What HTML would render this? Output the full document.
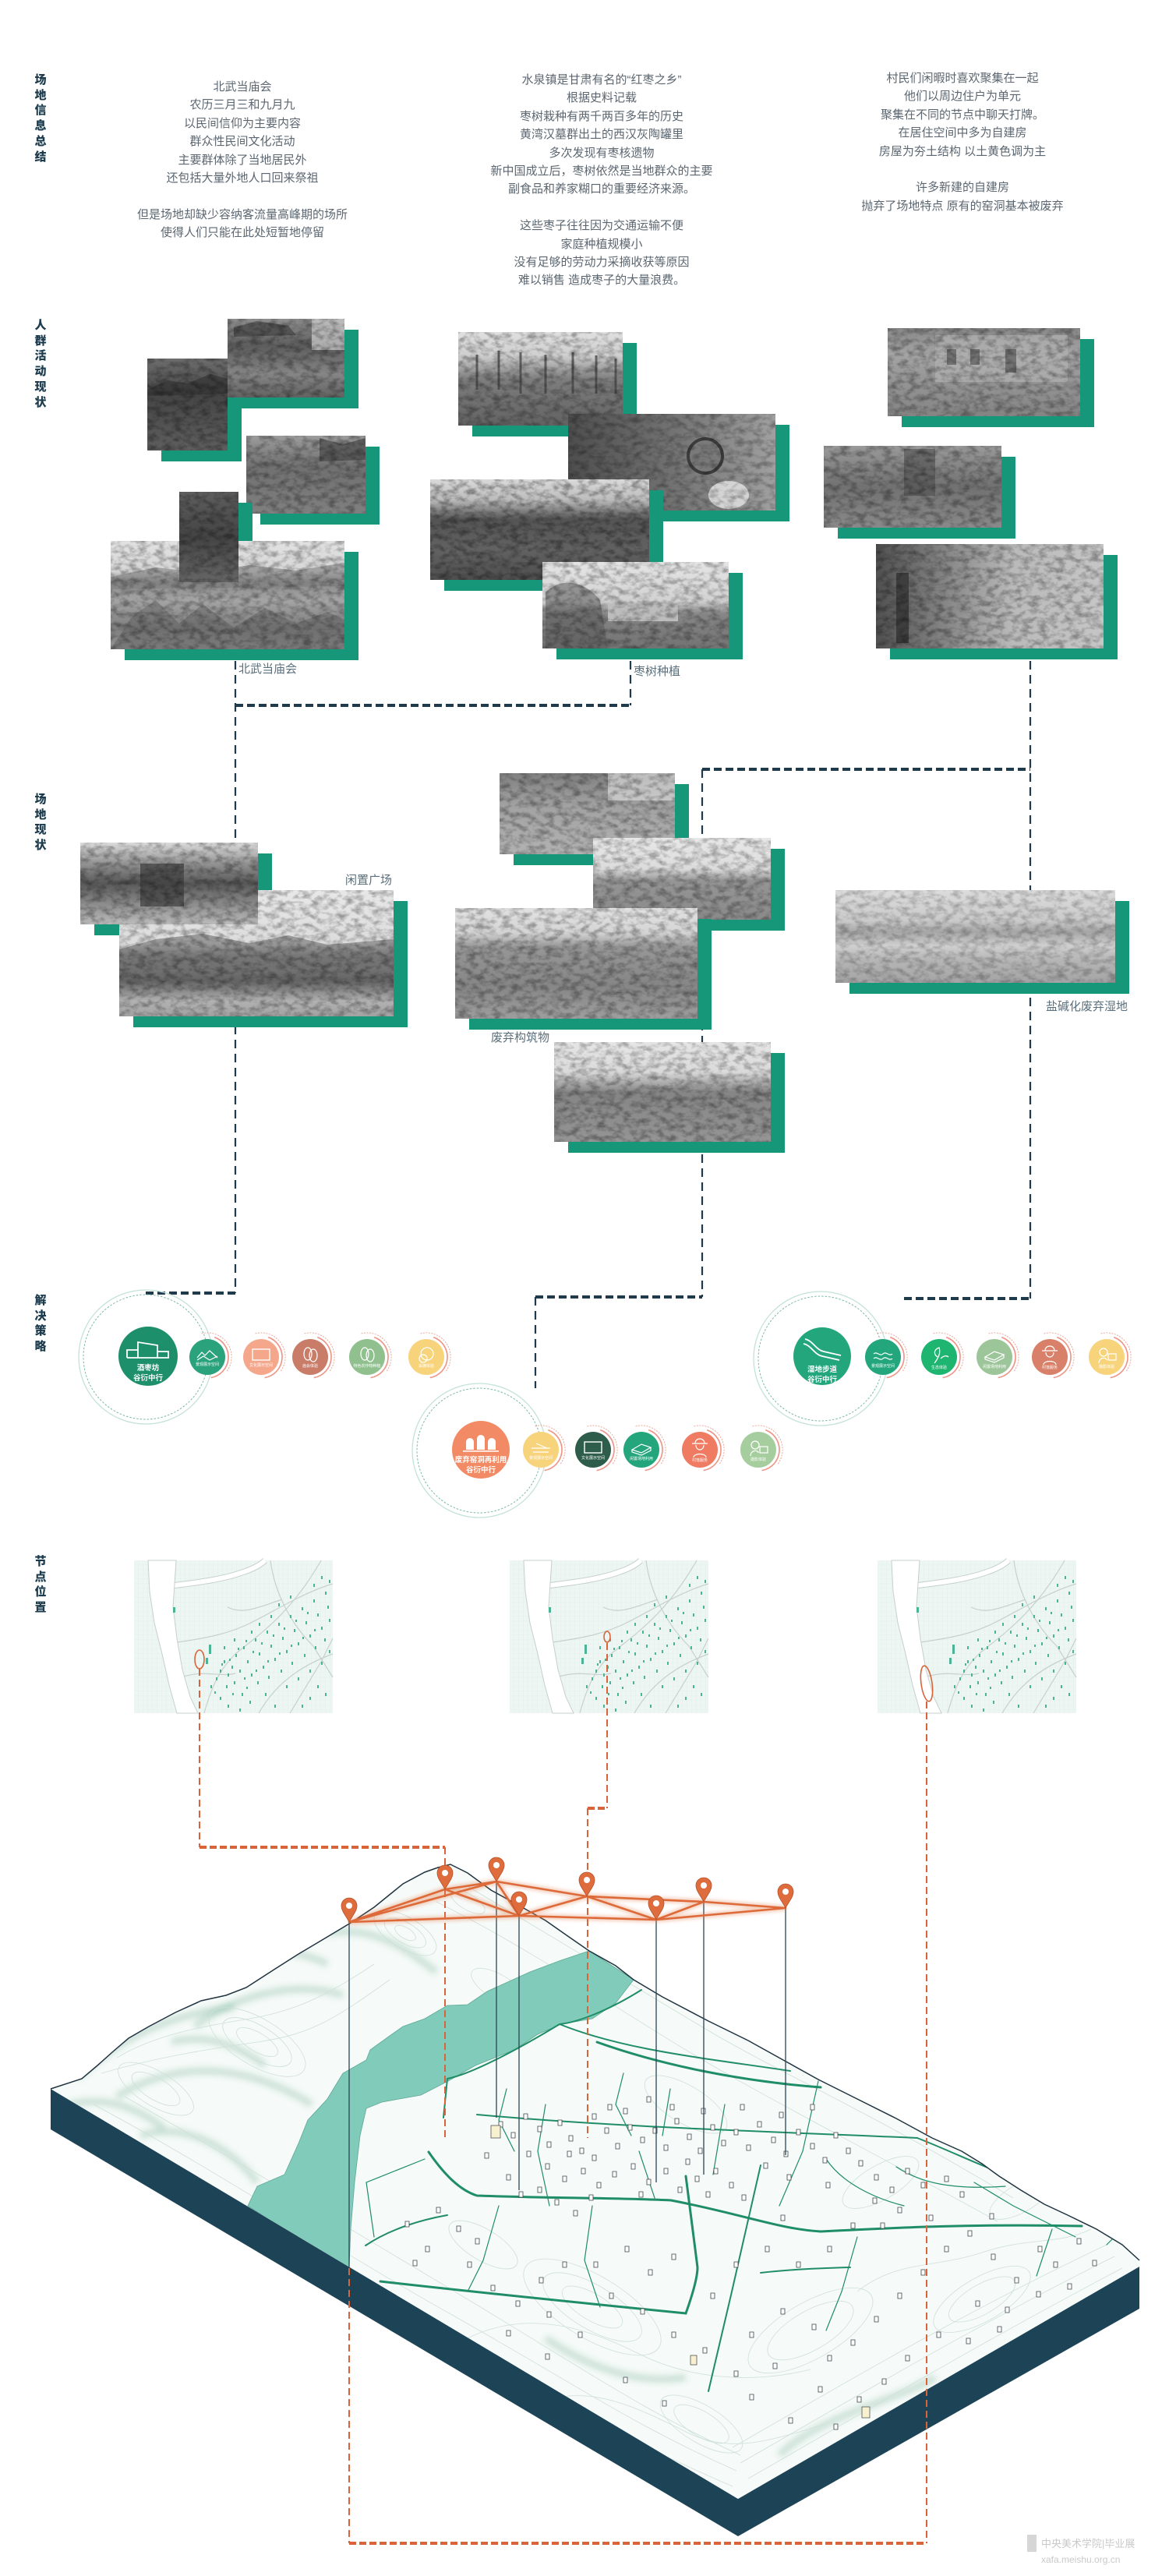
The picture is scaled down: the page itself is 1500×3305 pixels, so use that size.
<!DOCTYPE html>
<html><head><meta charset="utf-8">
<style>
html,body{margin:0;padding:0;background:#fff;}
#pg{position:relative;width:1500px;height:3305px;overflow:hidden;background:#fff;font-family:"Liberation Sans","Noto Sans CJK SC",sans-serif;}
.p{position:absolute;width:470px;text-align:center;font-size:15px;line-height:23.4px;color:#5b6670;white-space:nowrap;}
.side{position:absolute;left:43px;width:18px;text-align:center;font-size:15px;line-height:19.7px;font-weight:900;color:#1c3c4e;font-family:"Noto Sans CJK SC","WenQuanYi Zen Hei",sans-serif;}
.lbl{position:absolute;font-size:15px;line-height:18px;color:#5a6f7b;white-space:nowrap;}
.ct{font-family:"Liberation Sans","Noto Sans CJK SC",sans-serif;font-size:9.5px;font-weight:bold;fill:#fff;text-anchor:middle;}
.st{font-family:"Liberation Sans","Noto Sans CJK SC",sans-serif;font-size:5px;fill:#fff;text-anchor:middle;}
</style></head>
<body><div id="pg">
<svg xmlns="http://www.w3.org/2000/svg" width="1500" height="3305" viewBox="0 0 1500 3305" style="position:absolute;left:0;top:0">
<defs>
<filter id="grain" x="0" y="0" width="1" height="1">
<feTurbulence type="fractalNoise" baseFrequency="0.09 0.14" numOctaves="4" seed="7"/>
<feColorMatrix type="matrix" values="0 0 0 0 0  0 0 0 0 0  0 0 0 0 0  2.4 0 0 0 -0.95"/>
</filter>
<filter id="blur" x="-20%" y="-20%" width="140%" height="140%"><feGaussianBlur stdDeviation="4"/></filter>
<filter id="glow" x="-5%" y="-50%" width="110%" height="200%"><feGaussianBlur stdDeviation="2"/></filter>
<pattern id="grid" width="6" height="6" patternUnits="userSpaceOnUse"><path d="M6 0V6M0 6H6" stroke="#dcece7" stroke-width=".6" fill="none"/></pattern>
<linearGradient id="gA" x1="0" y1="0" x2="0" y2="1"><stop offset="0" stop-color="#8f8f8f"/><stop offset=".35" stop-color="#5d5d5d"/><stop offset=".7" stop-color="#868686"/><stop offset="1" stop-color="#626262"/></linearGradient>
<linearGradient id="gB" x1="0" y1="0" x2="0" y2="1"><stop offset="0" stop-color="#6e6e6e"/><stop offset=".4" stop-color="#454545"/><stop offset="1" stop-color="#5e5e5e"/></linearGradient>
<linearGradient id="gC" x1="0" y1="0" x2="0" y2="1"><stop offset="0" stop-color="#9c9c9c"/><stop offset=".4" stop-color="#707070"/><stop offset="1" stop-color="#808080"/></linearGradient>
<linearGradient id="gD" x1="0" y1="0" x2="0" y2="1"><stop offset="0" stop-color="#5e5e5e"/><stop offset=".5" stop-color="#444"/><stop offset="1" stop-color="#666"/></linearGradient>
<linearGradient id="gE" x1="0" y1="0" x2="0" y2="1"><stop offset="0" stop-color="#e2e2e2"/><stop offset=".28" stop-color="#d6d6d6"/><stop offset=".38" stop-color="#8a8a8a"/><stop offset=".55" stop-color="#a5a5a5"/><stop offset=".8" stop-color="#7e7e7e"/><stop offset="1" stop-color="#939393"/></linearGradient>
<linearGradient id="gM" x1="0" y1="0" x2="0" y2="1"><stop offset="0" stop-color="#e0e0e0"/><stop offset=".25" stop-color="#cfcfcf"/><stop offset=".5" stop-color="#7e7e7e"/><stop offset="1" stop-color="#626262"/></linearGradient>
<linearGradient id="gN" x1="0" y1="0" x2="1" y2="0"><stop offset="0" stop-color="#4e4e4e"/><stop offset=".5" stop-color="#727272"/><stop offset="1" stop-color="#a0a0a0"/></linearGradient>
<linearGradient id="gO" x1="0" y1="0" x2="0" y2="1"><stop offset="0" stop-color="#dadada"/><stop offset=".2" stop-color="#bdbdbd"/><stop offset=".4" stop-color="#545454"/><stop offset=".7" stop-color="#626262"/><stop offset="1" stop-color="#4e4e4e"/></linearGradient>
<linearGradient id="gP" x1="0" y1="0" x2="0" y2="1"><stop offset="0" stop-color="#e5e5e5"/><stop offset=".45" stop-color="#d2d2d2"/><stop offset=".6" stop-color="#868686"/><stop offset="1" stop-color="#737373"/></linearGradient>
<linearGradient id="gQ" x1="0" y1="0" x2="0" y2="1"><stop offset="0" stop-color="#888"/><stop offset=".3" stop-color="#a4a4a4"/><stop offset=".6" stop-color="#959595"/><stop offset="1" stop-color="#848484"/></linearGradient>
<linearGradient id="gR" x1="0" y1="0" x2="0" y2="1"><stop offset="0" stop-color="#9a9a9a"/><stop offset=".5" stop-color="#717171"/><stop offset="1" stop-color="#8a8a8a"/></linearGradient>
<linearGradient id="gS" x1="0" y1="0" x2="1" y2="0"><stop offset="0" stop-color="#505050"/><stop offset=".3" stop-color="#858585"/><stop offset=".6" stop-color="#bababa"/><stop offset="1" stop-color="#c6c6c6"/></linearGradient>
<linearGradient id="gF" x1="0" y1="0" x2="0" y2="1"><stop offset="0" stop-color="#dcdcdc"/><stop offset=".25" stop-color="#959595"/><stop offset=".5" stop-color="#585858"/><stop offset=".75" stop-color="#8c8c8c"/><stop offset="1" stop-color="#bcbcbc"/></linearGradient>
<linearGradient id="gG" x1="0" y1="0" x2="0" y2="1"><stop offset="0" stop-color="#e8e8e8"/><stop offset=".42" stop-color="#dcdcdc"/><stop offset=".52" stop-color="#858585"/><stop offset=".72" stop-color="#646464"/><stop offset=".88" stop-color="#b2b2b2"/><stop offset="1" stop-color="#a2a2a2"/></linearGradient>
<linearGradient id="gH" x1="0" y1="0" x2="0" y2="1"><stop offset="0" stop-color="#808080"/><stop offset=".4" stop-color="#a2a2a2"/><stop offset="1" stop-color="#b2b2b2"/></linearGradient>
<linearGradient id="gI" x1="0" y1="0" x2="0" y2="1"><stop offset="0" stop-color="#e8e8e8"/><stop offset=".38" stop-color="#dcdcdc"/><stop offset=".52" stop-color="#959595"/><stop offset="1" stop-color="#8a8a8a"/></linearGradient>
<linearGradient id="gJ" x1="0" y1="0" x2="0" y2="1"><stop offset="0" stop-color="#e2e2e2"/><stop offset=".22" stop-color="#d5d5d5"/><stop offset=".35" stop-color="#979797"/><stop offset=".7" stop-color="#868686"/><stop offset="1" stop-color="#9e9e9e"/></linearGradient>
<linearGradient id="gK" x1="0" y1="0" x2="0" y2="1"><stop offset="0" stop-color="#e6e6e6"/><stop offset=".3" stop-color="#dadada"/><stop offset=".5" stop-color="#858585"/><stop offset="1" stop-color="#959595"/></linearGradient>
<linearGradient id="gL" x1="0" y1="0" x2="0" y2="1"><stop offset="0" stop-color="#dcdcdc"/><stop offset=".33" stop-color="#cacaca"/><stop offset=".45" stop-color="#a6a6a6"/><stop offset=".6" stop-color="#d0d0d0"/><stop offset=".75" stop-color="#b6b6b6"/><stop offset="1" stop-color="#a4a4a4"/></linearGradient>
<clipPath id="tc"><path d="M65 2680 L105 2667 L125 2650 L144 2633 L165 2615 L191 2600 L225 2582 L258 2567 L290 2560 L316 2550 L350 2528 L383 2507 L415 2488 L450 2467 L480 2447 L517 2417 L545 2402 L562 2396 L578 2392 L600 2403 L630 2425 L670 2447 L700 2464 L730 2485 L756 2503 L790 2522 L813 2540 L850 2562 L909 2593 L960 2618 L1005 2643 L1050 2668 L1100 2693 L1150 2718 L1196 2743 L1234 2760 L1260 2776 L1282 2792 L1310 2810 L1340 2828 L1370 2842 L1407 2860 L1440 2880 L1462 2900 L1462 2908 L947 3206 Z"/></clipPath>
<g id="map">
<rect width="255" height="196" fill="#edf6f3"/>
<rect width="255" height="196" fill="url(#grid)"/>
<g fill="none" stroke="#c6d0cd" stroke-width="1.2">
<path d="M55 105 C90 100 120 95 150 80 C180 65 220 40 255 30"/>
<path d="M90 196 C100 160 110 140 130 120 C160 95 200 70 240 0"/>
<path d="M160 196 C175 170 200 140 255 120"/>
<path d="M175 0 C180 40 200 80 230 110 L255 150"/>
<path d="M60 150 C90 140 110 150 130 145"/>
<path d="M200 196 L240 130 L255 100"/>
<path d="M120 60 C140 70 160 60 190 50"/>
</g>
<path d="M52 32 C85 28 115 24 140 15 C155 10 163 5 168 0" stroke="#c6d0cd" stroke-width="8" fill="none"/>
<path d="M52 32 C85 28 115 24 140 15 C155 10 163 5 168 0" stroke="#fff" stroke-width="6" fill="none"/>
<path d="M18 0 L54 0 L52 30 L50 60 L55 100 L62 140 L72 175 L82 196 L55 196 L45 160 L36 120 L26 80 L20 40 Z" fill="#fff" stroke="#c6d0cd"/>
<path fill="#4db396" d="M105 150h2v4h-2zM110 140h2v4h-2zM98 160h2v4h-2zM115 128h2v4h-2zM120 145h2v4h-2zM125 135h2v4h-2zM118 160h2v4h-2zM130 120h2v4h-2zM135 140h2v4h-2zM128 155h2v4h-2zM140 110h2v4h-2zM145 128h2v4h-2zM150 145h2v4h-2zM138 170h2v4h-2zM155 100h2v4h-2zM160 118h2v4h-2zM165 135h2v4h-2zM158 155h2v4h-2zM148 180h2v4h-2zM170 90h2v4h-2zM175 108h2v4h-2zM180 125h2v4h-2zM172 148h2v4h-2zM168 170h2v4h-2zM185 80h2v4h-2zM190 98h2v4h-2zM195 115h2v4h-2zM188 140h2v4h-2zM200 70h2v4h-2zM205 88h2v4h-2zM210 105h2v4h-2zM202 130h2v4h-2zM215 60h2v4h-2zM220 78h2v4h-2zM225 95h2v4h-2zM218 120h2v4h-2zM230 50h2v4h-2zM235 68h2v4h-2zM240 85h2v4h-2zM232 110h2v4h-2zM245 40h2v4h-2zM248 58h2v4h-2zM250 75h2v4h-2zM244 100h2v4h-2zM210 150h2v4h-2zM225 140h2v4h-2zM240 130h2v4h-2zM250 115h2v4h-2zM195 160h2v4h-2zM180 185h2v4h-2zM120 185h2v4h-2zM135 190h2v4h-2zM110 175h2v4h-2zM240 20h2v4h-2zM250 25h2v4h-2zM230 30h2v4h-2zM200 45h2v4h-2zM185 55h2v4h-2zM175 70h2v4h-2zM160 80h2v4h-2zM150 90h2v4h-2zM128 100h2v4h-2zM115 110h2v4h-2zM235 160h2v4h-2zM245 170h2v4h-2zM225 175h2v4h-2zM215 185h2v4h-2zM96 108h3v12h-3zM92 125h3v8h-3zM50 60h3v7h-3zM112 132h2v3h-2zM122 126h2v3h-2zM133 112h2v3h-2zM143 102h2v3h-2zM152 116h2v3h-2zM163 105h2v3h-2zM178 95h2v3h-2zM192 86h2v3h-2zM207 76h2v3h-2zM222 66h2v3h-2zM141 150h2v3h-2zM156 140h2v3h-2zM171 128h2v3h-2zM186 118h2v3h-2zM201 108h2v3h-2zM216 98h2v3h-2zM231 88h2v3h-2zM103 168h2v3h-2zM126 170h2v3h-2zM144 162h2v3h-2z"/>
</g>
<g id="ring"><circle r="86" stroke="#c3e2d9" stroke-width="1.3" fill="none"/><circle r="80" stroke="#7ab8a6" stroke-width="1" stroke-dasharray="2.5 2" fill="none"/></g>
<g id="arc"><path d="M9.2 -25.4 A27 27 0 0 1 4.7 26.6" stroke="#ee9383" stroke-width="1.6" fill="none"/><path d="M-7.5 -30.1 A31 31 0 0 1 24.8 18.7" stroke="#e9a093" stroke-width=".9" stroke-dasharray="2 1.5" fill="none"/></g>
</defs>

<!-- navy dashed connectors -->
<g stroke="#1f3a4b" fill="none">
<g stroke-width="2.2" stroke-dasharray="11 7">
<path d="M302 848V1659M809 848V905M1322 848V1666M901 987V1337M901 1481V1664M687 1664V1781"/>
</g>
<g stroke-width="4" stroke-dasharray="10 5">
<path d="M302 905H809M187 1659H302M901 987H1322M687 1664H901M1160 1666H1322"/>
</g>
</g>

<!-- photos column 1 -->
<g>
<rect x="207" y="474" width="103" height="118" fill="#17977a"/>
<rect x="189" y="460" width="103" height="118" fill="url(#gB)"/>
<path d="M189 500 L215 488 L240 492 L270 480 L292 486 L292 505 L189 508Z" fill="#2e2e2e" opacity=".6"/>
<rect x="189" y="460" width="103" height="118" filter="url(#grain)" opacity=".32"/>
<rect x="310" y="423" width="150" height="101" fill="#17977a"/>
<rect x="292" y="409" width="150" height="101" fill="url(#gA)"/>
<rect x="400" y="409" width="42" height="40" fill="#cfcfcf" opacity=".7"/>
<path d="M300 420 L330 412 L370 418 L380 430 L300 432Z" fill="#3a3a3a" opacity=".6"/>
<rect x="292" y="409" width="150" height="101" filter="url(#grain)" opacity=".32"/>
<rect x="334" y="573" width="153" height="100" fill="#17977a"/>
<rect x="316" y="559" width="153" height="100" fill="url(#gC)"/>
<path d="M410 562 L440 570 L469 562 L469 590 L410 592Z" fill="#3e3e3e" opacity=".6"/>
<rect x="316" y="559" width="153" height="100" filter="url(#grain)" opacity=".32"/>
<rect x="248" y="645" width="76" height="116" fill="#17977a"/>
<rect x="160" y="708" width="300" height="139" fill="#17977a"/>
<rect x="142" y="694" width="300" height="139" fill="url(#gE)"/>
<path d="M142 740 L200 728 L260 735 L320 725 L380 732 L442 722 L442 752 L142 756 Z" fill="#7e7e7e" opacity=".6"/>
<path d="M170 790 L200 770 L230 800 L260 775 L300 805 L340 780 L380 800 L420 785 L442 795 L442 833 L142 833 Z" fill="#5e5e5e" opacity=".45"/>
<rect x="142" y="694" width="300" height="139" filter="url(#grain)" opacity=".32"/>
<rect x="230" y="631" width="76" height="116" fill="url(#gD)"/>
<rect x="230" y="631" width="76" height="116" filter="url(#grain)" opacity=".32"/>
</g>
<!-- photos column 2 -->
<g>
<rect x="606" y="440" width="211" height="120" fill="#17977a"/>
<rect x="588" y="426" width="211" height="120" fill="url(#gM)"/>
<g stroke="#3e3e3e" stroke-width="3" opacity=".7"><path d="M612 500V455M640 500V450M668 505V452M700 505V455M735 505V452M765 505V456M790 505V460"/></g>
<rect x="588" y="426" width="211" height="120" filter="url(#grain)" opacity=".32"/>
<rect x="747" y="545" width="266" height="124" fill="#17977a"/>
<rect x="729" y="531" width="266" height="124" fill="url(#gN)"/>
<circle cx="905" cy="585" r="22" fill="#7a7a7a" stroke="#3d3d3d" stroke-width="4"/>
<ellipse cx="935" cy="635" rx="26" ry="18" fill="#d4d4d4"/>
<rect x="729" y="531" width="266" height="124" filter="url(#grain)" opacity=".28"/>
<rect x="570" y="629" width="281" height="129" fill="#17977a"/>
<rect x="552" y="615" width="281" height="129" fill="url(#gO)"/>
<rect x="552" y="615" width="281" height="129" filter="url(#grain)" opacity=".36"/>
<rect x="714" y="735" width="239" height="111" fill="#17977a"/>
<rect x="696" y="721" width="239" height="111" fill="url(#gP)"/>
<path d="M700 832 L700 760 C720 740 750 745 770 770 L780 832Z" fill="#5a5a5a" opacity=".55"/>
<rect x="780" y="775" width="90" height="22" fill="#bdbdbd"/>
<rect x="696" y="721" width="239" height="111" filter="url(#grain)" opacity=".32"/>
</g>
<!-- photos column 3 -->
<g>
<rect x="1157" y="435" width="247" height="113" fill="#17977a"/>
<rect x="1139" y="421" width="247" height="113" fill="url(#gQ)"/>
<rect x="1200" y="430" width="170" height="60" fill="#b2b2b2" opacity=".7"/>
<g fill="#5a5a5a" opacity=".7"><rect x="1215" y="448" width="12" height="20"/><rect x="1245" y="448" width="12" height="20"/><rect x="1290" y="448" width="14" height="30"/></g>
<rect x="1139" y="421" width="247" height="113" filter="url(#grain)" opacity=".32"/>
<rect x="1075" y="586" width="228" height="105" fill="#17977a"/>
<rect x="1057" y="572" width="228" height="105" fill="url(#gR)"/>
<rect x="1160" y="576" width="40" height="60" fill="#4e4e4e" opacity=".6"/>
<rect x="1057" y="572" width="228" height="105" filter="url(#grain)" opacity=".32"/>
<rect x="1142" y="712" width="292" height="134" fill="#17977a"/>
<rect x="1124" y="698" width="292" height="134" fill="url(#gS)"/>
<rect x="1150" y="735" width="16" height="90" fill="#2e2e2e" opacity=".7"/>
<rect x="1124" y="698" width="292" height="134" filter="url(#grain)" opacity=".32"/>
</g>
<!-- site photos -->
<g>
<rect x="121" y="1095" width="228" height="105" fill="#17977a"/>
<rect x="171" y="1156" width="352" height="162" fill="#17977a"/>
<rect x="153" y="1142" width="352" height="162" fill="url(#gG)"/>
<path d="M153 1218 L200 1205 L260 1198 L320 1210 L370 1200 L420 1212 L505 1205 L505 1240 L153 1246Z" fill="#6e6e6e" opacity=".6"/>
<rect x="153" y="1142" width="352" height="162" filter="url(#grain)" opacity=".32"/>
<rect x="103" y="1081" width="228" height="105" fill="url(#gF)"/>
<rect x="180" y="1108" width="56" height="55" fill="#3f3f3f" opacity=".7"/>
<rect x="103" y="1081" width="228" height="105" filter="url(#grain)" opacity=".32"/>

<rect x="659" y="1006" width="225" height="104" fill="#17977a"/>
<rect x="641" y="992" width="225" height="104" fill="url(#gH)"/>
<rect x="780" y="992" width="86" height="35" fill="#d8d8d8" opacity=".7"/>
<rect x="641" y="992" width="225" height="104" filter="url(#grain)" opacity=".32"/>
<rect x="779" y="1089" width="228" height="105" fill="#17977a"/>
<rect x="761" y="1075" width="228" height="105" fill="url(#gI)"/>
<rect x="761" y="1075" width="228" height="105" filter="url(#grain)" opacity=".32"/>
<rect x="602" y="1179" width="311" height="142" fill="#17977a"/>
<rect x="584" y="1165" width="311" height="142" fill="url(#gJ)"/>
<rect x="584" y="1165" width="311" height="142" filter="url(#grain)" opacity=".32"/>
<rect x="729" y="1351" width="278" height="128" fill="#17977a"/>
<rect x="711" y="1337" width="278" height="128" fill="url(#gK)"/>
<rect x="711" y="1337" width="278" height="128" filter="url(#grain)" opacity=".32"/>
<rect x="1090" y="1156" width="359" height="119" fill="#17977a"/>
<rect x="1072" y="1142" width="359" height="119" fill="url(#gL)"/>
<rect x="1072" y="1142" width="359" height="119" filter="url(#grain)" opacity=".24"/>
</g>

<!-- strategy clusters -->
<use href="#ring" x="187" y="1741"/>
<use href="#ring" x="615" y="1861"/>
<use href="#ring" x="1053" y="1743"/>

<circle cx="190" cy="1740" r="38" fill="#1e8f6b"/>
<g transform="translate(190,1740)" stroke="#fff" stroke-width="1.8" fill="none"><path d="M-27 2 V-8 H-13 M-27 2 H27 M-13 2 V-18 L12 -14 V2 M12 -6 H26 V2"/></g>
<text x="190" y="1758" class="ct">酒枣坊</text><text x="190" y="1771" class="ct">谷衍中行</text>

<g transform="translate(266,1741)"><use href="#arc"/><circle r="23" fill="#2aa37c"/><path d="M-13 1 L-7 -6 L-3 -2 L3 -8 L13 1 M-13 4 L-5 -1 L3 4 L13 -1" stroke="#fff" stroke-width="1.2" fill="none"/><text y="11" class="st">景观展示空间</text></g>
<g transform="translate(335,1741)"><use href="#arc"/><circle r="23" fill="#f5a78c"/><rect x="-11" y="-10" width="22" height="14" stroke="#fff" stroke-width="1.4" fill="none"/><text y="12" class="st">文化展示空间</text></g>
<g transform="translate(398,1741)"><use href="#arc"/><circle r="23" fill="#c97c68"/><ellipse cx="-3" cy="-4" rx="5" ry="8" stroke="#fff" stroke-width="1.2" fill="none"/><ellipse cx="4" cy="-2" rx="5" ry="8" stroke="#fff" stroke-width="1.2" fill="none"/><text y="13" class="st">庙会体验</text></g>
<g transform="translate(471,1741)"><use href="#arc"/><circle r="23" fill="#8fc08e"/><ellipse cx="-3" cy="-4" rx="5" ry="8" stroke="#fff" stroke-width="1.2" fill="none"/><ellipse cx="4" cy="-2" rx="5" ry="8" stroke="#fff" stroke-width="1.2" fill="none"/><text y="13" class="st">特色农作物种植</text></g>
<g transform="translate(547,1741)"><use href="#arc"/><circle r="23" fill="#f7d47c"/><circle cx="1" cy="-4" r="8" stroke="#fff" stroke-width="1.2" fill="none"/><circle cx="-4" cy="2" r="5" stroke="#fff" stroke-width="1.2" fill="none"/><text y="13" class="st">采摘体验</text></g>

<circle cx="617" cy="1860" r="37" fill="#f28b65"/>
<g transform="translate(617,1860)" fill="#fff"><path d="M-19 0 V-10 A5 5 0 0 1 -9 -10 V0 Z M-5 0 V-14 A5 5 0 0 1 5 -14 V0 Z M9 0 V-10 A5 5 0 0 1 19 -10 V0 Z"/><rect x="-23" y="1" width="46" height="1.6"/></g>
<text x="617" y="1876" class="ct">废弃窑洞再利用</text><text x="617" y="1889" class="ct">谷衍中行</text>

<g transform="translate(694,1860)"><use href="#arc"/><circle r="23" fill="#f7d47c"/><path d="M-12 -2 H12 M-10 3 H10 M-6 -8 L8 -2" stroke="#fff" stroke-width="1.2" fill="none"/><text y="12" class="st">景观展示空间</text></g>
<g transform="translate(761,1860)"><use href="#arc"/><circle r="23" fill="#2f5d4c"/><rect x="-11" y="-10" width="22" height="14" stroke="#fff" stroke-width="1.4" fill="none"/><text y="12" class="st">文化展示空间</text></g>
<g transform="translate(823,1860)"><use href="#arc"/><circle r="23" fill="#24a57b"/><path d="M-12 0 L0 -7 L12 -3 L0 4 Z M-12 0 V3 L0 7 L12 1 V-3" stroke="#fff" stroke-width="1.2" fill="none"/><text y="13" class="st">闲置场地利用</text></g>
<g transform="translate(898,1860)"><use href="#arc"/><circle r="23" fill="#ef7b63"/><path d="M-10 -8 H10 M-6 -8 C-6 -16 6 -16 6 -8 M-5 -6 C-5 2 5 2 5 -6 M-8 10 C-8 4 8 4 8 10" stroke="#fff" stroke-width="1.2" fill="none"/><text y="15" class="st">村落服务</text></g>
<g transform="translate(973,1860)"><use href="#arc"/><circle r="23" fill="#a6cd9e"/><circle cx="-4" cy="-6" r="5" stroke="#fff" stroke-width="1.2" fill="none"/><path d="M-10 8 C-10 0 0 0 0 4" stroke="#fff" stroke-width="1.2" fill="none"/><rect x="2" y="-4" width="10" height="8" stroke="#fff" stroke-width="1.2" fill="none"/><text y="14" class="st">摄影体验</text></g>

<circle cx="1055" cy="1740" r="37" fill="#24a67d"/>
<g transform="translate(1055,1740)" stroke="#fff" stroke-width="1.8" fill="none"><path d="M-22 -22 C-12 -20 -8 -8 2 -6 L24 -1 M-24 -16 C-14 -14 -10 -2 0 0 L22 5"/></g>
<text x="1055" y="1760" class="ct">湿地步道</text><text x="1055" y="1773" class="ct">谷衍中行</text>

<g transform="translate(1133,1741)"><use href="#arc"/><circle r="23" fill="#24a67d"/><path d="M-12 -4 C-8 -8 -4 0 0 -4 C4 -8 8 0 12 -4 M-12 2 C-8 -2 -4 6 0 2 C4 -2 8 6 12 2" stroke="#fff" stroke-width="1.2" fill="none"/><text y="13" class="st">景观展示空间</text></g>
<g transform="translate(1205,1741)"><use href="#arc"/><circle r="23" fill="#1db56f"/><path d="M-6 8 C0 0 2 -6 0 -12 C-6 -10 -8 -4 -2 0 M2 2 C6 -2 10 -2 12 0" stroke="#fff" stroke-width="1.3" fill="none"/><text y="15" class="st">生态体验</text></g>
<g transform="translate(1276,1741)"><use href="#arc"/><circle r="23" fill="#9dc59a"/><path d="M-12 0 L0 -7 L12 -3 L0 4 Z M-12 0 V3 L0 7 L12 1 V-3" stroke="#fff" stroke-width="1.2" fill="none"/><text y="14" class="st">闲置场地利用</text></g>
<g transform="translate(1347,1741)"><use href="#arc"/><circle r="23" fill="#d88069"/><path d="M-10 -8 H10 M-6 -8 C-6 -16 6 -16 6 -8 M-5 -6 C-5 2 5 2 5 -6 M-8 10 C-8 4 8 4 8 10" stroke="#fff" stroke-width="1.2" fill="none"/><text y="15" class="st">村落服务</text></g>
<g transform="translate(1420,1741)"><use href="#arc"/><circle r="23" fill="#f7d47c"/><circle cx="-4" cy="-6" r="5" stroke="#fff" stroke-width="1.2" fill="none"/><path d="M-10 8 C-10 0 0 0 0 4" stroke="#fff" stroke-width="1.2" fill="none"/><rect x="2" y="-4" width="10" height="8" stroke="#fff" stroke-width="1.2" fill="none"/><text y="14" class="st">摄影体验</text></g>

<!-- node maps -->
<use href="#map" x="172" y="2002"/>
<use href="#map" x="654" y="2002"/>
<use href="#map" x="1126" y="2002"/>
<g stroke="#d9643a" stroke-width="1.6" fill="none">
<ellipse cx="256" cy="2129" rx="6" ry="12"/>
<ellipse cx="779" cy="2100" rx="4" ry="7"/>
<ellipse cx="1189" cy="2160" rx="7" ry="23" transform="rotate(-8 1189 2160)"/>
</g>

<!-- terrain -->
<path d="M65 2680 L947 3206 L947 3254 L65 2732 Z" fill="#1d4456"/>
<path d="M947 3206 L1462 2908 L1462 2962 L947 3254 Z" fill="#1d4456"/>
<path d="M65 2680 L105 2667 L125 2650 L144 2633 L165 2615 L191 2600 L225 2582 L258 2567 L290 2560 L316 2550 L350 2528 L383 2507 L415 2488 L450 2467 L480 2447 L517 2417 L545 2402 L562 2396 L578 2392 L600 2403 L630 2425 L670 2447 L700 2464 L730 2485 L756 2503 L790 2522 L813 2540 L850 2562 L909 2593 L960 2618 L1005 2643 L1050 2668 L1100 2693 L1150 2718 L1196 2743 L1234 2760 L1260 2776 L1282 2792 L1310 2810 L1340 2828 L1370 2842 L1407 2860 L1440 2880 L1462 2900 L1462 2908 L947 3206 Z" fill="#f6faf8"/>
<g clip-path="url(#tc)">
<g stroke="#4f9a7c" stroke-opacity=".26" stroke-width="9" fill="none" filter="url(#blur)">
<path d="M100 2665 C160 2610 220 2585 300 2575"/>
<path d="M150 2690 C230 2640 320 2650 400 2700"/>
<path d="M250 2600 C300 2560 380 2540 440 2560"/>
<path d="M180 2740 C240 2720 300 2760 330 2800"/>
<path d="M420 2480 C480 2470 520 2500 560 2530"/>
<path d="M90 2700 C130 2690 170 2700 210 2730"/>
<path d="M300 2520 C340 2500 380 2500 420 2520"/>
<path d="M220 2620 C260 2610 300 2620 340 2650"/>
<path d="M1000 3150 C1050 3100 1150 3080 1200 3050"/>
<path d="M700 3000 C760 3040 820 3060 880 3050"/>
</g>
<g stroke="#cfe0d9" stroke-width=".8" fill="none">
<ellipse cx="330" cy="2620" rx="70" ry="30" transform="rotate(31 330 2620)"/><ellipse cx="330" cy="2620" rx="50" ry="21" transform="rotate(31 330 2620)"/><ellipse cx="330" cy="2620" rx="30" ry="12" transform="rotate(31 330 2620)"/>
<ellipse cx="520" cy="2480" rx="45" ry="20" transform="rotate(31 520 2480)"/><ellipse cx="520" cy="2480" rx="30" ry="13" transform="rotate(31 520 2480)"/><ellipse cx="520" cy="2480" rx="15" ry="7" transform="rotate(31 520 2480)"/>
<ellipse cx="200" cy="2680" rx="55" ry="22" transform="rotate(31 200 2680)"/><ellipse cx="200" cy="2680" rx="35" ry="14" transform="rotate(31 200 2680)"/>
<ellipse cx="760" cy="2960" rx="100" ry="40" transform="rotate(31 760 2960)"/><ellipse cx="760" cy="2960" rx="72" ry="28" transform="rotate(31 760 2960)"/><ellipse cx="760" cy="2960" rx="44" ry="17" transform="rotate(31 760 2960)"/>
<ellipse cx="1040" cy="2990" rx="90" ry="36" transform="rotate(-30 1040 2990)"/><ellipse cx="1040" cy="2990" rx="62" ry="25" transform="rotate(-30 1040 2990)"/>
<ellipse cx="1260" cy="2950" rx="70" ry="28" transform="rotate(-30 1260 2950)"/><ellipse cx="1260" cy="2950" rx="48" ry="19" transform="rotate(-30 1260 2950)"/>
<ellipse cx="900" cy="3110" rx="60" ry="24" transform="rotate(31 900 3110)"/><ellipse cx="900" cy="3110" rx="40" ry="16" transform="rotate(31 900 3110)"/>
<ellipse cx="620" cy="2880" rx="50" ry="20" transform="rotate(31 620 2880)"/>
<ellipse cx="1310" cy="2820" rx="45" ry="18" transform="rotate(-30 1310 2820)"/>
<ellipse cx="1130" cy="2800" rx="55" ry="22" transform="rotate(-30 1130 2800)"/>
<ellipse cx="880" cy="2700" rx="60" ry="24" transform="rotate(31 880 2700)"/>
<ellipse cx="640" cy="2550" rx="40" ry="16" transform="rotate(31 640 2550)"/>
<ellipse cx="600" cy="2440" rx="25" ry="10" transform="rotate(31 600 2440)"/>
<path d="M80 2700 C250 2790 400 2900 560 2990 S800 3130 940 3190"/>
<path d="M120 2700 C270 2780 420 2880 580 2970 S810 3110 945 3170"/>
<path d="M160 2690 C300 2770 450 2860 600 2950 S820 3090 950 3150"/>
<path d="M960 3180 C1100 3100 1250 3010 1440 2910"/>
<path d="M950 3160 C1090 3080 1240 2990 1430 2895"/>
<path d="M940 3140 C1080 3060 1230 2970 1420 2880"/>
<path d="M600 2420 C700 2480 800 2540 900 2600 S1100 2700 1300 2820"/>
<path d="M560 2440 C680 2500 780 2570 880 2630 S1080 2740 1280 2850"/>
<path d="M150 2640 C200 2610 260 2600 320 2590 S420 2560 480 2520"/>
<path d="M130 2660 C200 2640 260 2630 330 2620 S430 2590 500 2540"/>
<path d="M600 3000 C680 2960 760 2990 820 3020 S960 3060 1040 3040"/>
<path d="M700 3080 C760 3060 820 3090 880 3120 S990 3130 1060 3110"/>
<path d="M1100 2940 C1150 2900 1200 2910 1260 2890 S1360 2880 1400 2860"/>
</g>
<path d="M756 2503 L813 2540 L790 2570 L760 2590 L720 2597 L690 2610 L660 2630 L610 2650 L575 2670 L540 2688 L490 2697 L470 2705 L462 2740 L455 2800 L450 2860 L448 2910 L344 2847 L318 2830 L330 2805 L365 2790 L383 2750 L395 2720 L420 2693 L440 2660 L470 2643 L475 2630 L500 2612 L517 2600 L545 2590 L574 2573 L600 2572 L625 2555 L680 2530 L720 2515 Z" fill="#80cbb9" stroke="#5fa896" stroke-width=".8"/>
<g stroke="#1f8d67" fill="none" stroke-linecap="round">
<g stroke-width="2">
<path d="M823 2553 C780 2580 740 2595 718 2597 C680 2620 610 2660 574 2667 L569 2717"/>
<path d="M718 2597 C800 2630 900 2640 1014 2657"/>
<path d="M612 2713 C800 2730 1000 2735 1177 2743"/>
<path d="M976 2778 C960 2850 930 2980 909 3068"/>
<path d="M469 2881 C500 2860 540 2848 574 2842"/>
<path d="M976 2916 C1010 2912 1050 2910 1091 2909"/>
<path d="M1177 2743 C1220 2760 1250 2775 1290 2790"/>
</g>
<g stroke-width="3">
<path d="M766 2620 C850 2650 950 2670 1053 2678"/>
<path d="M550 2761 C570 2790 590 2810 612 2817 C700 2820 800 2820 861 2823 C950 2840 1000 2860 1053 2863 C1150 2858 1250 2853 1388 2856"/>
<path d="M488 2927 C600 2940 750 2955 880 2968 C890 2940 895 2920 895 2909 C890 2870 885 2830 880 2792"/>
</g>
<g stroke-width="1.2">
<path d="M545 2770 L470 2800 L480 2870"/>
<path d="M700 2700 L690 2760 L705 2830"/>
<path d="M930 2700 L915 2790"/>
<path d="M1050 2670 L1030 2760 L1000 2830"/>
<path d="M1250 2800 L1300 2830 L1380 2870"/>
<path d="M1150 2780 C1180 2800 1220 2810 1290 2805"/>
<path d="M1350 2860 L1330 2920"/>
<path d="M760 2830 L750 2900 L770 2960"/>
<path d="M640 2830 L620 2900 L600 2940"/>
<path d="M1100 2870 L1080 2940 L1060 2990"/>
<path d="M820 2760 L840 2820"/>
<path d="M1060 2770 C1080 2800 1120 2820 1160 2830"/>
<path d="M1420 2880 L1440 2860"/>
<path d="M650 2680 L640 2720 L660 2760"/>
<path d="M800 2660 L790 2700 L810 2740"/>
<path d="M860 2680 L850 2740"/>
</g>
</g>
<path fill="#fff" stroke="#3d4549" stroke-width=".8" d="M640 2722h5v7h-5zM656 2736h5v7h-5zM672 2712h5v7h-5zM690 2728h5v7h-5zM702 2748h5v7h-5zM716 2720h5v7h-5zM730 2740h5v7h-5zM744 2756h5v7h-5zM760 2712h5v7h-5zM776 2730h5v7h-5zM790 2750h5v7h-5zM806 2726h5v7h-5zM822 2742h5v7h-5zM838 2730h5v7h-5zM852 2752h5v7h-5zM866 2718h5v7h-5zM882 2738h5v7h-5zM896 2756h5v7h-5zM912 2726h5v7h-5zM926 2746h5v7h-5zM942 2732h5v7h-5zM958 2752h5v7h-5zM972 2722h5v7h-5zM990 2742h5v7h-5zM1006 2760h5v7h-5zM1022 2732h5v7h-5zM1040 2750h5v7h-5zM1056 2768h5v7h-5zM1070 2736h5v7h-5zM1086 2756h5v7h-5zM700 2776h5v7h-5zM722 2792h5v7h-5zM746 2782h5v7h-5zM766 2800h5v7h-5zM786 2786h5v7h-5zM810 2776h5v7h-5zM830 2796h5v7h-5zM852 2782h5v7h-5zM870 2806h5v7h-5zM892 2792h5v7h-5zM916 2782h5v7h-5zM936 2800h5v7h-5zM952 2816h5v7h-5zM690 2806h5v7h-5zM712 2822h5v7h-5zM736 2836h5v7h-5zM756 2816h5v7h-5zM622 2762h5v7h-5zM650 2790h5v7h-5zM666 2812h5v7h-5zM1102 2772h5v7h-5zM1122 2790h5v7h-5zM1142 2806h5v7h-5zM1162 2782h5v7h-5zM1182 2800h5v7h-5zM1212 2792h5v7h-5zM1232 2812h5v7h-5zM1152 2832h5v7h-5zM1192 2842h5v7h-5zM1130 2852h5v7h-5zM780 2700h5v7h-5zM800 2705h5v7h-5zM830 2690h5v7h-5zM860 2700h5v7h-5zM900 2705h5v7h-5zM950 2700h5v7h-5zM1000 2710h5v7h-5zM1040 2700h5v7h-5zM760 2765h5v7h-5zM880 2770h5v7h-5zM1010 2790h5v7h-5zM1060 2800h5v7h-5zM980 2775h5v7h-5zM560 2832h5v7h-5zM586 2856h5v7h-5zM610 2872h5v7h-5zM546 2882h5v7h-5zM600 2902h5v7h-5zM630 2932h5v7h-5zM662 2952h5v7h-5zM702 2966h5v7h-5zM742 2992h5v7h-5zM692 2922h5v7h-5zM722 2902h5v7h-5zM762 2902h5v7h-5zM802 2882h5v7h-5zM832 2912h5v7h-5zM862 2892h5v7h-5zM782 2942h5v7h-5zM822 2962h5v7h-5zM862 2992h5v7h-5zM902 3012h5v7h-5zM942 3042h5v7h-5zM962 2992h5v7h-5zM1002 2962h5v7h-5zM1042 2982h5v7h-5zM1062 3022h5v7h-5zM1092 3002h5v7h-5zM1122 2972h5v7h-5zM1152 2942h5v7h-5zM1182 2912h5v7h-5zM1212 2882h5v7h-5zM1242 2862h5v7h-5zM1272 2892h5v7h-5zM1302 2922h5v7h-5zM1332 2882h5v7h-5zM1352 2902h5v7h-5zM1382 2872h5v7h-5zM1402 2900h5v7h-5zM1252 2952h5v7h-5zM1202 2992h5v7h-5zM1162 3022h5v7h-5zM1132 3052h5v7h-5zM1100 3075h5v7h-5zM1050 3062h5v7h-5zM992 3032h5v7h-5zM962 3072h5v7h-5zM1022 2902h5v7h-5zM1062 2882h5v7h-5zM1092 2852h5v7h-5zM1002 2842h5v7h-5zM982 2882h5v7h-5zM942 2902h5v7h-5zM912 2942h5v7h-5zM1012 3102h5v7h-5zM1070 3110h5v7h-5zM520 2850h5v7h-5zM530 2900h5v7h-5zM650 2990h5v7h-5zM700 3020h5v7h-5zM800 3050h5v7h-5zM850 3080h5v7h-5zM1290 2960h5v7h-5zM1330 2940h5v7h-5zM1370 2930h5v7h-5zM1240 3000h5v7h-5zM1280 2985h5v7h-5zM676 2760h5v7h-5zM728 2760h5v7h-5zM820 2812h5v7h-5zM906 2812h5v7h-5zM1120 2820h5v7h-5zM1270 2840h5v7h-5z"/>
<rect x="630" y="2727" width="12" height="16" fill="#f7f1cf" stroke="#555" stroke-width=".8"/>
<rect x="886" y="3022" width="8" height="12" fill="#f7f1cf" stroke="#555" stroke-width=".8"/>
<rect x="1106" y="3088" width="10" height="14" fill="#f7f1cf" stroke="#555" stroke-width=".8"/>
</g>
<path d="M65 2680 L105 2667 L125 2650 L144 2633 L165 2615 L191 2600 L225 2582 L258 2567 L290 2560 L316 2550 L350 2528 L383 2507 L415 2488 L450 2467 L480 2447 L517 2417 L545 2402 L562 2396 L578 2392 L600 2403 L630 2425 L670 2447 L700 2464 L730 2485 L756 2503 L790 2522 L813 2540 L850 2562 L909 2593 L960 2618 L1005 2643 L1050 2668 L1100 2693 L1150 2718 L1196 2743 L1234 2760 L1260 2776 L1282 2792 L1310 2810 L1340 2828 L1370 2842 L1407 2860 L1440 2880 L1462 2900" fill="none" stroke="#1f3340" stroke-width="1.5"/>

<!-- navy pin drop lines -->
<g stroke="#2b4656" stroke-width="1.3" fill="none">
<path d="M448 2466V2910M637 2414V2717M666 2458V2810M842 2463V2800M903 2440V2790M1008 2448V2765"/>
</g>

<!-- orange dashed -->
<g stroke="#d9643a" fill="none">
<g stroke-width="2" stroke-dasharray="9 5">
<path d="M256 2141V2370M571 2370V2393M779 2108V2320M754 2320V2402M1189 2183V3263M448 2910V3263M571 2425V2743M754 2434V2743"/>
</g>
<g stroke-width="4" stroke-dasharray="9 4">
<path d="M256 2370H571M754 2320H779M448 3263H1189"/>
</g>
</g>

<!-- truss -->
<g stroke="#e27a48" stroke-width="7" opacity=".35" fill="none" filter="url(#glow)">
<path d="M448 2466L571 2424M448 2466L637 2414M448 2466L666 2458L842 2463M571 2424L637 2414M571 2424L666 2458M637 2414L666 2458M637 2414L753 2433M666 2458L753 2433M753 2433L842 2463M753 2433L903 2440M842 2463L903 2440M842 2463L1008 2448M903 2440L1008 2448"/>
</g>
<g stroke="#dd6a38" stroke-width="2.6" fill="none" stroke-linecap="round">
<path d="M448 2466L571 2424M448 2466L637 2414M448 2466L666 2458L842 2463M571 2424L637 2414M571 2424L666 2458M637 2414L666 2458M637 2414L753 2433M666 2458L753 2433M753 2433L842 2463M753 2433L903 2440M842 2463L903 2440M842 2463L1008 2448M903 2440L1008 2448"/>
</g>
<!-- pins -->
<g fill="#de6c3c" stroke="#b8532a" stroke-width=".8">
<path d="M448 2466 C444 2458 438 2452 438 2445 A10 10 0 0 1 458 2445 C458 2452 452 2458 448 2466Z"/>
<path d="M571 2424 C567 2416 561 2410 561 2403 A10 10 0 0 1 581 2403 C581 2410 575 2416 571 2424Z"/>
<path d="M637 2414 C633 2406 627 2400 627 2393 A10 10 0 0 1 647 2393 C647 2400 641 2406 637 2414Z"/>
<path d="M666 2458 C662 2450 656 2444 656 2437 A10 10 0 0 1 676 2437 C676 2444 670 2450 666 2458Z"/>
<path d="M753 2433 C749 2425 743 2419 743 2412 A10 10 0 0 1 763 2412 C763 2419 757 2425 753 2433Z"/>
<path d="M842 2463 C838 2455 832 2449 832 2442 A10 10 0 0 1 852 2442 C852 2449 846 2455 842 2463Z"/>
<path d="M903 2440 C899 2432 893 2426 893 2419 A10 10 0 0 1 913 2419 C913 2426 907 2432 903 2440Z"/>
<path d="M1008 2448 C1004 2440 998 2434 998 2427 A10 10 0 0 1 1018 2427 C1018 2434 1012 2440 1008 2448Z"/>
</g>
<g fill="#fff">
<circle cx="448" cy="2445" r="4"/><circle cx="571" cy="2403" r="4"/><circle cx="637" cy="2393" r="4"/><circle cx="666" cy="2437" r="4"/><circle cx="753" cy="2412" r="4"/><circle cx="842" cy="2442" r="4"/><circle cx="903" cy="2419" r="4"/><circle cx="1008" cy="2427" r="4"/>
</g>

<!-- watermark -->
<rect x="1318" y="3252" width="12" height="22" fill="#d6d6d6"/>
<text x="1336" y="3268" font-size="13" fill="#c9c9c9" font-family="Liberation Sans, Noto Sans CJK SC, sans-serif">中央美术学院|毕业展</text>
<text x="1336" y="3288" font-size="12" fill="#c9c9c9" font-family="Liberation Sans, sans-serif">xafa.meishu.org.cn</text>
</svg>

<!-- side labels -->
<div class="side" style="top:92px">场<br>地<br>信<br>息<br>总<br>结</div>
<div class="side" style="top:407px">人<br>群<br>活<br>动<br>现<br>状</div>
<div class="side" style="top:1015px">场<br>地<br>现<br>状</div>
<div class="side" style="top:1658px">解<br>决<br>策<br>略</div>
<div class="side" style="top:1993px">节<br>点<br>位<br>置</div>

<!-- paragraphs -->
<div class="p" style="left:76px;top:100px">北武当庙会<br>农历三月三和九月九<br>以民间信仰为主要内容<br>群众性民间文化活动<br>主要群体除了当地居民外<br>还包括大量外地人口回来祭祖<br><br>但是场地却缺少容纳客流量高峰期的场所<br>使得人们只能在此处短暂地停留</div>
<div class="p" style="left:537px;top:91px">水泉镇是甘肃有名的“红枣之乡”<br>根据史料记载<br>枣树栽种有两千两百多年的历史<br>黄湾汉墓群出土的西汉灰陶罐里<br>多次发现有枣核遗物<br>新中国成立后，枣树依然是当地群众的主要<br>副食品和养家糊口的重要经济来源。<br><br>这些枣子往往因为交通运输不便<br>家庭种植规模小<br>没有足够的劳动力采摘收获等原因<br>难以销售 造成枣子的大量浪费。</div>
<div class="p" style="left:1000px;top:89px">村民们闲暇时喜欢聚集在一起<br>他们以周边住户为单元<br>聚集在不同的节点中聊天打牌。<br>在居住空间中多为自建房<br>房屋为夯土结构 以土黄色调为主<br><br>许多新建的自建房<br>抛弃了场地特点 原有的窑洞基本被废弃</div>

<!-- photo labels -->
<div class="lbl" style="left:306px;top:850px">北武当庙会</div>
<div class="lbl" style="left:813px;top:853px">枣树种植</div>
<div class="lbl" style="left:443px;top:1121px">闲置广场</div>
<div class="lbl" style="left:630px;top:1323px">废弃构筑物</div>
<div class="lbl" style="left:1342px;top:1283px">盐碱化废弃湿地</div>
</div>
</body></html>
